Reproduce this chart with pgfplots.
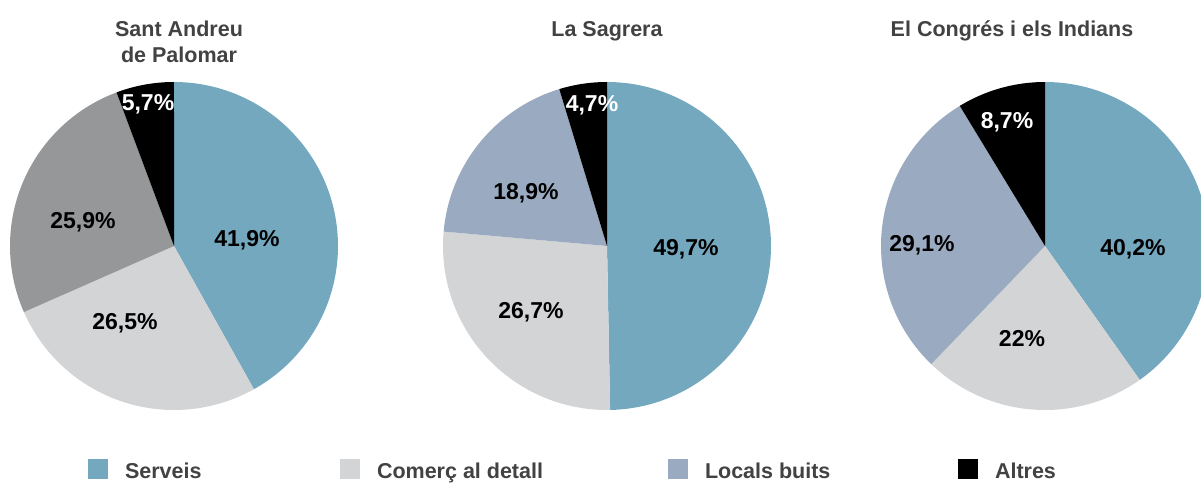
\documentclass[border=0pt]{standalone}
\usepackage{fontspec}
\setmainfont{Liberation Sans}
\usepackage{pgfplots}
\pgfplotsset{compat=1.18}
\definecolor{cS}{RGB}{116,168,190}
\definecolor{cC}{RGB}{211,212,214}
\definecolor{cL}{RGB}{154,171,193}
\definecolor{cG}{RGB}{149,151,153}
\definecolor{cA}{RGB}{0,0,0}
\definecolor{tcol}{RGB}{66,66,66}
% slice: colour, centre x, centre y, cumulative start (%), value (%)
\newcommand{\slice}[5]{%
  \addplot[fill=#1, draw=none, forget plot, domain=90-3.6*#4:90-3.6*(#4+#5), samples=90, variable=\t]
    ({#2+164*cos(\t)},{#3+164*sin(\t)}) -- (axis cs:#2,#3) -- cycle;}
\newcommand{\tfont}{\fontsize{21.5}{24}\bfseries\selectfont}
\newcommand{\lfont}{\fontsize{23}{26}\bfseries\selectfont}
\begin{document}
\begin{tikzpicture}
\begin{axis}[name=ax, width=1201pt, height=482pt, scale only axis,
  xmin=0, xmax=1201, ymin=0, ymax=482, hide axis, clip=true,
  legend columns=4,
  legend style={at={(axis cs:88,2.5)}, anchor=south west, draw=none, fill=none,
    inner sep=0pt, outer sep=0pt, font=\tfont, text=tcol,
    nodes={inner sep=0pt}, column sep=0pt, row sep=0pt},
  legend image code/.code={\fill[#1, draw=none] (0pt,-8pt) rectangle (20pt,12pt); \path (37pt,0pt);},
]
% Sant Andreu de Palomar: 41.9, 26.5, 25.9, 5.7
\slice{cS}{174}{236}{0}{41.9}
\slice{cC}{174}{236}{41.9}{26.5}
\slice{cG}{174}{236}{68.4}{25.9}
\slice{cA}{174}{236}{94.3}{5.7}
% La Sagrera: 49.7, 26.7, 18.9, 4.7
\slice{cS}{607}{236}{0}{49.7}
\slice{cC}{607}{236}{49.7}{26.7}
\slice{cL}{607}{236}{76.4}{18.9}
\slice{cA}{607}{236}{95.3}{4.7}
% El Congres i els Indians: 40.2, 22, 29.1, 8.7
\slice{cS}{1045}{236}{0}{40.2}
\slice{cC}{1045}{236}{40.2}{22}
\slice{cL}{1045}{236}{62.2}{29.1}
\slice{cA}{1045}{236}{91.3}{8.7}

\addlegendimage{fill=cS, draw=none}\addlegendentry{\makebox[215pt][l]{Serveis}}
\addlegendimage{fill=cC, draw=none}\addlegendentry{\makebox[291pt][l]{Comerç al detall}}
\addlegendimage{fill=cL, draw=none}\addlegendentry{\makebox[253pt][l]{Locals buits}}
\addlegendimage{fill=cA, draw=none}\addlegendentry{Altres}

% titles
\node[font=\tfont, text=tcol, anchor=base] at (axis cs:179,445) {Sant Andreu};
\node[font=\tfont, text=tcol, anchor=base] at (axis cs:179,419) {de Palomar};
\node[font=\tfont, text=tcol, anchor=base] at (axis cs:607,445) {La Sagrera};
\node[font=\tfont, text=tcol, anchor=base] at (axis cs:1012,445) {El Congrés i els Indians};
% value labels
\node[font=\lfont, anchor=base] at (axis cs:247,235.5) {41,9\%};
\node[font=\lfont, anchor=base] at (axis cs:125,152.5) {26,5\%};
\node[font=\lfont, anchor=base] at (axis cs:83,253.5) {25,9\%};
\node[font=\lfont, anchor=base, text=white] at (axis cs:148,371.5) {5,7\%};
\node[font=\lfont, anchor=base] at (axis cs:686,226.5) {49,7\%};
\node[font=\lfont, anchor=base] at (axis cs:531,163.5) {26,7\%};
\node[font=\lfont, anchor=base] at (axis cs:526,282.5) {18,9\%};
\node[font=\lfont, anchor=base, text=white] at (axis cs:592,370.5) {4,7\%};
\node[font=\lfont, anchor=base] at (axis cs:1133,226.5) {40,2\%};
\node[font=\lfont, anchor=base] at (axis cs:1022,135.5) {22\%};
\node[font=\lfont, anchor=base] at (axis cs:922,230.5) {29,1\%};
\node[font=\lfont, anchor=base, text=white] at (axis cs:1007,353.5) {8,7\%};
\end{axis}
\pgfresetboundingbox
\path[use as bounding box] (ax.south west) rectangle (ax.north east);
\end{tikzpicture}
\end{document}
